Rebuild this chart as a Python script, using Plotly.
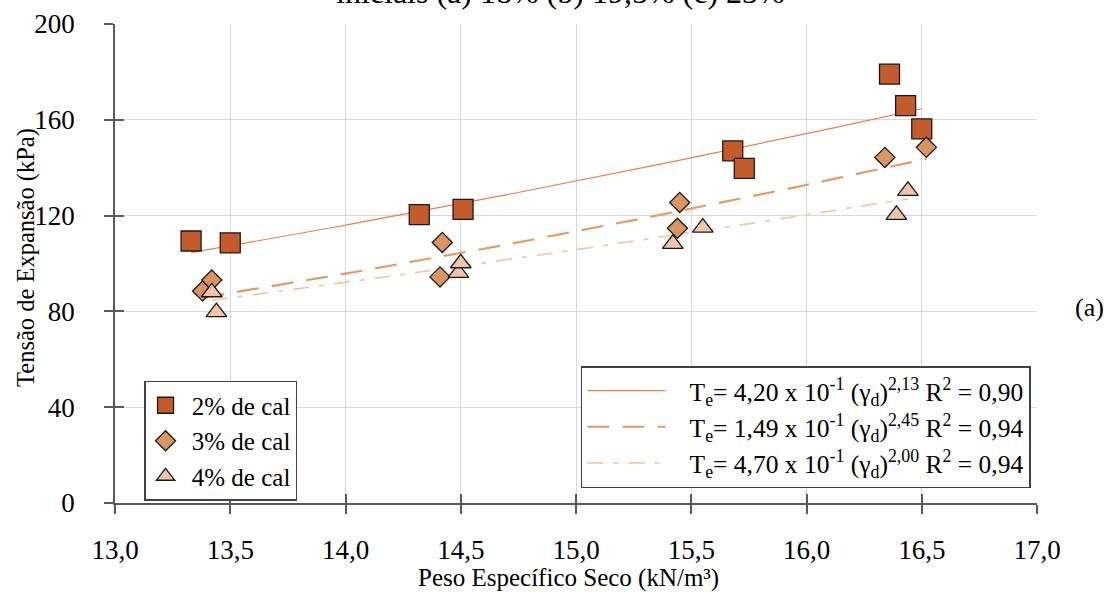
import numpy as np
import plotly.graph_objects as go

# Peso específico seco (kN/m³) e tensão de expansão (kPa) por teor de cal
gamma_2 = [13.33, 13.50, 14.32, 14.51, 15.68, 15.73, 16.36, 16.43, 16.50]
tensao_2 = [109.4, 108.6, 120.4, 122.6, 147.0, 139.7, 179.1, 165.9, 156.2]

gamma_3 = [13.38, 13.42, 14.41, 14.42, 15.44, 15.45, 16.34, 16.52]
tensao_3 = [88.5, 93.1, 94.4, 108.8, 114.7, 125.5, 144.3, 148.5]

gamma_4 = [13.42, 13.44, 14.49, 14.50, 15.42, 15.55, 16.39, 16.44]
tensao_4 = [88.0, 79.7, 96.1, 100.1, 108.2, 115.0, 120.3, 130.3]

# Ajustes potenciais Te = a * (gamma_d)^b
coef_a = [0.420, 0.149, 0.470]
coef_b = [2.13, 2.45, 2.00]
r2 = ["0,90", "0,94", "0,94"]
coef_a_txt = ["4,20", "1,49", "4,70"]
coef_b_txt = ["2,13", "2,45", "2,00"]

labels = ["2% de cal", "3% de cal", "4% de cal"]
x_ticks = [13.0, 13.5, 14.0, 14.5, 15.0, 15.5, 16.0, 16.5, 17.0]
y_ticks = [0, 40, 80, 120, 160, 200]

FONT = "Liberation Serif, Times New Roman, serif"
marker_fill = ["#C45B2C", "#DA9564", "#F0C6AA"]
marker_sym = ["square", "diamond", "triangle-up"]
marker_size = [20, 15.5, 18]
line_col = ["#E58050", "#E49B68", "#F3C8AB"]
line_dash = ["solid", "22px,13px", "16px,10px,5px,10px"]
line_w = [1.2, 2.2, 1.8]

series = [(gamma_2, tensao_2), (gamma_3, tensao_3), (gamma_4, tensao_4)]
NB = "\u00a0"

fig = go.Figure()

# curvas de ajuste (desenhadas por baixo dos marcadores)
for i, (gx, ty) in enumerate(series):
    xs = np.linspace(min(gx), max(gx), 60)
    ys = coef_a[i] * xs ** coef_b[i]
    name = (NB * 3 + f"T<sub>e</sub>= {coef_a_txt[i]} x 10<sup>-1</sup> "
            f"(γ<sub>d</sub>)<sup>{coef_b_txt[i]}</sup> R<sup>2</sup> = {r2[i]}")
    fig.add_trace(go.Scatter(
        x=xs, y=ys, mode="lines", name=name, legend="legend2",
        line=dict(color=line_col[i], width=line_w[i], dash=line_dash[i]),
        hoverinfo="skip"))

for i, (gx, ty) in enumerate(series):
    fig.add_trace(go.Scatter(
        x=gx, y=ty, mode="markers", name=NB + labels[i], legend="legend",
        marker=dict(symbol=marker_sym[i], size=marker_size[i], color=marker_fill[i],
                    line=dict(color="#1a1a1a", width=1.3))))

axis_col = "#595959"
grid_col = "#D9D9D9"

fig.update_layout(
    width=1112, height=592,
    margin=dict(l=115, r=75, t=24, b=89),
    paper_bgcolor="white", plot_bgcolor="white",
    separators=",.",
    font=dict(family=FONT, size=25, color="black"),
    xaxis=dict(range=[13, 17], tickvals=x_ticks, tickformat=".1f",
               tickfont=dict(size=27), automargin=False,
               showgrid=True, gridcolor=grid_col, gridwidth=1,
               showline=True, linecolor=axis_col, linewidth=1.5,
               ticks="outside", ticklen=9, tickcolor=axis_col, tickwidth=1.5,
               zeroline=False, ticklabelstandoff=13),
    yaxis=dict(range=[0, 200], tickvals=y_ticks,
               tickfont=dict(size=27), automargin=False,
               showgrid=True, gridcolor=grid_col, gridwidth=1,
               showline=True, linecolor=axis_col, linewidth=1.5,
               ticks="outside", ticklen=9, tickcolor=axis_col, tickwidth=1.5,
               zeroline=False, ticklabelstandoff=24),
    # segundo par de eixos: marcas de escala cruzadas
    xaxis2=dict(range=[13, 17], tickvals=x_ticks, overlaying="x", anchor="y",
                side="bottom", showticklabels=False, showgrid=False, zeroline=False,
                automargin=False,
                ticks="inside", ticklen=9, tickcolor=axis_col, tickwidth=1.5),
    yaxis2=dict(range=[0, 200], tickvals=y_ticks, overlaying="y", anchor="x",
                side="left", showticklabels=False, showgrid=False, zeroline=False,
                automargin=False,
                ticks="inside", ticklen=9, tickcolor=axis_col, tickwidth=1.5),
    legend=dict(x=0.0315, y=0.2547, xanchor="left", yanchor="top",
                bgcolor="white", bordercolor="#404040", borderwidth=1.5,
                font=dict(size=25), tracegroupgap=0),
    legend2=dict(x=0.5054, y=0.286, xanchor="left", yanchor="top",
                 bgcolor="white", bordercolor="#404040", borderwidth=1.5,
                 font=dict(size=25.5), itemwidth=78, tracegroupgap=0),
    showlegend=True,
)

# trace auxiliar invisível para ativar o segundo par de eixos
fig.add_trace(go.Scatter(x=[13], y=[0], xaxis="x2", yaxis="y2", mode="markers",
                         marker=dict(opacity=0), showlegend=False, hoverinfo="skip"))

# títulos dos eixos
fig.add_annotation(text="Tensão de Expansão (kPa)", xref="paper", yref="paper",
                   x=(26 - 115) / 922, y=(503 - 258) / 479, textangle=-90,
                   xanchor="center", yanchor="middle", showarrow=False,
                   font=dict(size=24.5))
fig.add_annotation(text="Peso Específico Seco (kN/m³)", xref="paper", yref="paper",
                   x=(568 - 115) / 922, y=(503 - 578) / 479,
                   xanchor="center", yanchor="middle", showarrow=False,
                   font=dict(size=25))
fig.add_annotation(text="(a)", xref="paper", yref="paper", x=(1089 - 115) / 922,
                   y=(503 - 308) / 479,
                   xanchor="center", yanchor="middle", showarrow=False,
                   font=dict(size=26))
fig.add_annotation(text="iniciais (a) 18% (b) 19,5% (c) 23%", xref="paper", yref="paper",
                   x=(560 - 115) / 922, y=(503 - 12) / 479,
                   xanchor="center", yanchor="bottom", showarrow=False,
                   font=dict(size=32))

fig.write_html("out.html")
